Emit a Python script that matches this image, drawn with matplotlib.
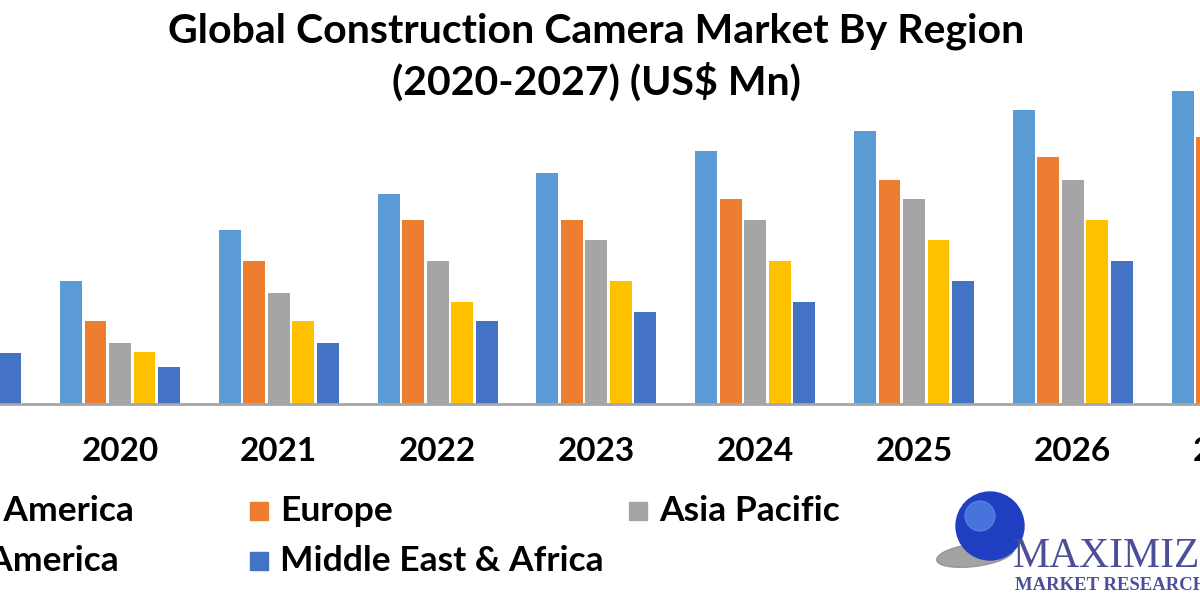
import matplotlib
matplotlib.use("Agg")
import matplotlib.pyplot as plt
from matplotlib.patches import Rectangle, Ellipse
import numpy as np

"""basic configuration"""
matplotlib.rcParams["font.family"] = ["Lato", "DejaVu Sans"]
matplotlib.rcParams["font.weight"] = "bold"

# values (chart has no value axis, so units are arbitrary)
years = [2019, 2020, 2021, 2022, 2023, 2024, 2025, 2026, 2027]
north_america = [np.nan, 123, 174, 210, 231, 253, 273, 294, 313]
europe = [np.nan, 83, 143, 184, 184, 205, 224, 247, 267]
asia_pacific = [np.nan, 61, 111, 143, 164, 184, 205, 224, np.nan]
latin_america = [np.nan, 52, 83, 102, 123, 143, 164, 184, np.nan]
middle_east_africa = [51, 37, 61, 83, 92, 102, 123, 143, np.nan]

series_names = ["North America", "Europe", "Asia Pacific", "Latin America", "Middle East & Africa"]
series_colors = ["#5B9BD5", "#ED7D31", "#A5A5A5", "#FFC000", "#4472C4"]
series_values = [north_america, europe, asia_pacific, latin_america, middle_east_africa]

title = "Global Construction Camera Market By Region\n(2020-2027) (US$ Mn)"

fig = plt.figure(figsize=(12, 6), dpi=100)
# the chart is cropped on both sides, so the axes run past the figure edges
ax = fig.add_axes([-100 / 1200, 196 / 600, 1400 / 1200, 314 / 600])

pitch = 0.1543
width = 0.1385
x = np.array(years, dtype=float)
for i, (vals, color) in enumerate(zip(series_values, series_colors)):
    ax.bar(x + (i - 2) * pitch, vals, width=width, color=color, zorder=2)

ax.set_xticks(years)
ax.set_xticklabels([str(y) for y in years], fontsize=24, fontweight="bold")
ax.tick_params(axis="x", length=0, pad=24)
ax.set_yticks([])
# limits after the ticks, otherwise set_xticks widens the view
ax.set_xlim(2020 - 220 / 158.8, 2020 + 1180 / 158.8)
ax.set_ylim(0, 314)
for side in ["top", "left", "right"]:
    ax.spines[side].set_visible(False)
ax.spines["bottom"].set_color("#a6a6a6")
ax.spines["bottom"].set_linewidth(2)

fig.text(0.497, 1 - 57 / 600, title, ha="center", va="center", fontsize=29.5,
         fontweight="bold", linespacing=1.4)

# legend laid out like the spreadsheet one: fixed column pitch, two rows
col_x = [-129, 250, 629]
row_y = [511, 561]
for k, (name, color) in enumerate(zip(series_names, series_colors)):
    r, c = divmod(k, 3)
    sx = col_x[c]
    sy = row_y[r]
    fig.patches.append(Rectangle((sx / 1200, 1 - (sy + 9) / 600), 18 / 1200, 18 / 600,
                                 transform=fig.transFigure, color=color, figure=fig))
    fig.text((sx + 30) / 1200, 1 - sy / 600, name, ha="left", va="center",
             fontsize=25.5, fontweight="bold")

# logo
fig.patches.append(Ellipse((975 / 1200, 1 - 555 / 600), 80 / 1200, 22 / 600, angle=20,
                           transform=fig.transFigure, color="#8c8c8c", alpha=0.8, figure=fig))
fig.patches.append(Ellipse((990 / 1200, 1 - 526 / 600), 68 / 1200, 68 / 600,
                           transform=fig.transFigure, color="#1f3fc0", figure=fig))
fig.patches.append(Ellipse((980 / 1200, 1 - 516 / 600), 30 / 1200, 30 / 600,
                           transform=fig.transFigure, color="#5a8ae8", alpha=0.7, figure=fig))
fig.text(1013 / 1200, 1 - 557 / 600, "MAXIMIZE", ha="left", va="center", fontsize=30,
         family="Liberation Serif", color="#4b4f9a", fontweight="normal")
fig.text(1015 / 1200, 1 - 586 / 600, "MARKET RESEARCH", ha="left", va="center", fontsize=13.5,
         family="Liberation Serif", color="#4b4f9a", fontweight="bold")

fig.savefig("out.png", dpi=100, facecolor="white")
